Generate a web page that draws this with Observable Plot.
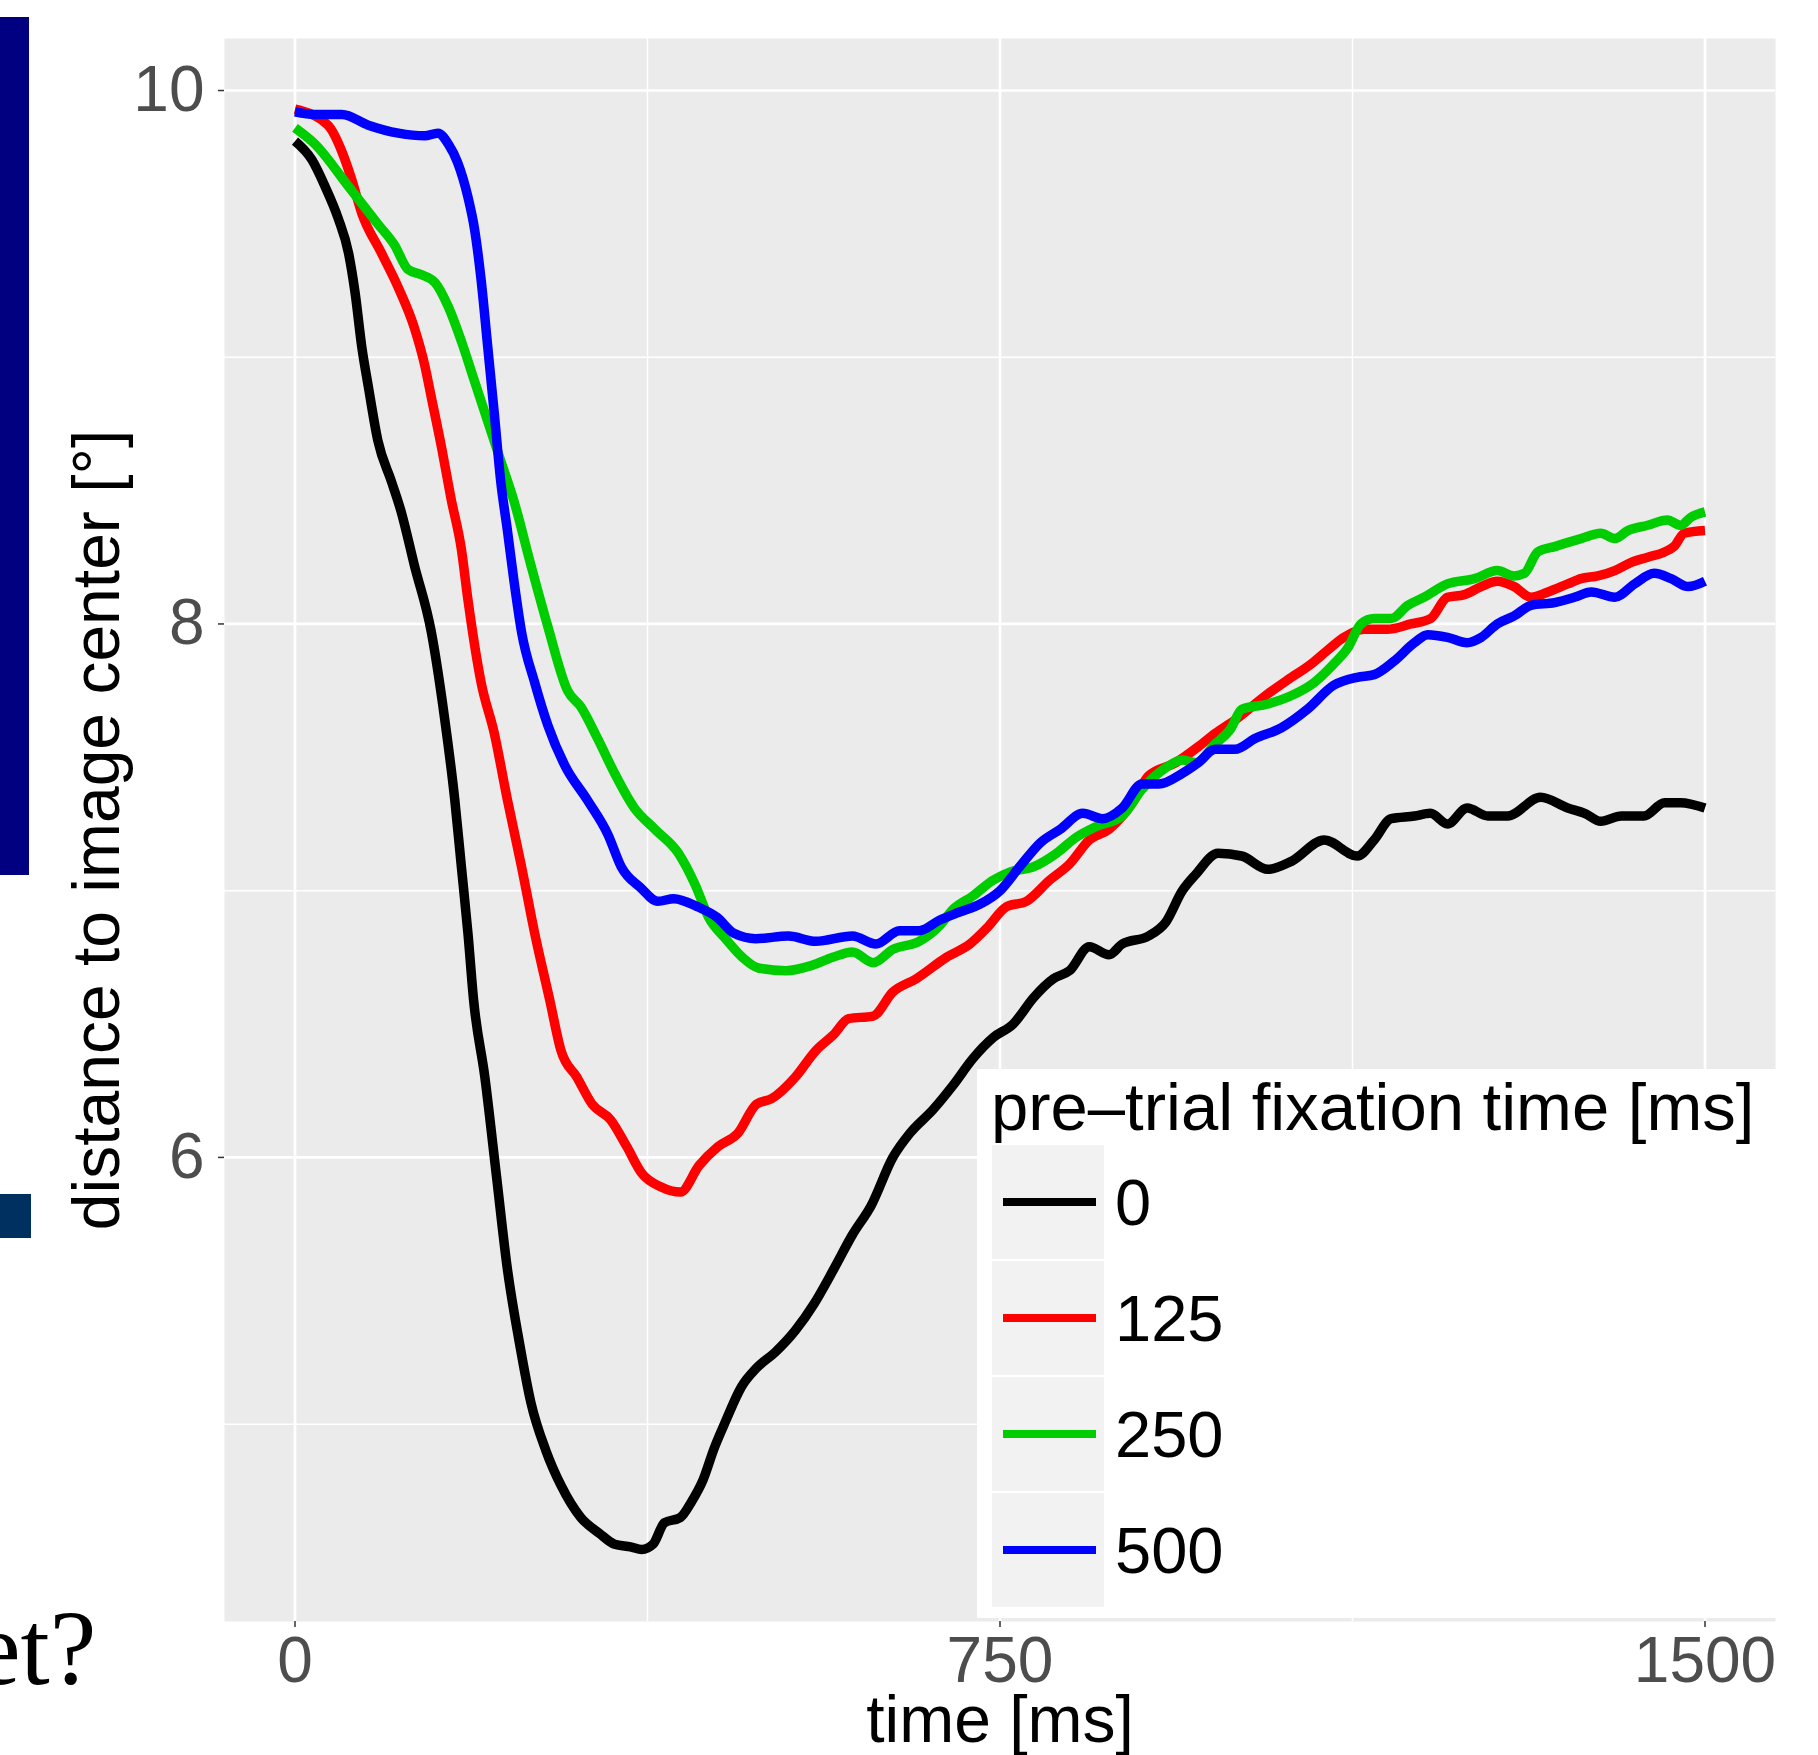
<!DOCTYPE html>
<html><head><meta charset="utf-8">
<script src="https://cdn.jsdelivr.net/npm/d3@7"></script>
<script src="https://cdn.jsdelivr.net/npm/@observablehq/plot@0.6"></script>
<style>
html,body{margin:0;padding:0;background:#fff;}
#wrap{position:relative;width:1818px;height:1755px;overflow:hidden;font-family:"Liberation Sans",Arial,sans-serif;}
#chart{position:absolute;left:0;top:0;}
#overlay{position:absolute;left:0;top:0;}
</style></head><body><div id="wrap"><div id="chart"></div><svg id="overlay" width="1818" height="1755"></svg></div>
<script>
// legend categories and colors
const seriesNames = ["0", "125", "250", "500"];
const seriesColors = ["#000000", "#FF0000", "#00CD00", "#0000FF"];
const legendTitle = "pre\u2013trial fixation time [ms]";
const xLabel = "time [ms]";
const yLabel = "distance to image center [\u00B0]";
const xTicks = [0, 750, 1500];
const xMinor = [375, 1125];
const yTicks = [6, 8, 10];
const yMinor = [5, 7, 9];

// series values: [time ms, distance deg]
const black0 = [[0,9.81],[18,9.74],[32,9.64],[46,9.52],[57,9.39],[64,9.24],[71,9.04],[78,8.89],[88,8.69],[103,8.53],[113,8.42],[127,8.22],[145,7.97],[159,7.65],[170,7.34],[177,7.09],[184,6.84],[190,6.59],[202,6.30],[214,5.94],[226,5.58],[239,5.30],[251,5.08],[267,4.90],[283,4.77],[304,4.65],[324,4.59],[340,4.55],[357,4.54],[369,4.53],[381,4.55],[393,4.63],[410,4.65],[422,4.71],[434,4.79],[446,4.91],[458,5.01],[475,5.14],[491,5.21],[511,5.27],[532,5.35],[552,5.45],[573,5.58],[593,5.71],[613,5.82],[636,6.00],[654,6.09],[679,6.18],[700,6.27],[721,6.37],[743,6.45],[764,6.50],[786,6.60],[807,6.67],[824,6.70],[845,6.79],[866,6.76],[880,6.80],[908,6.83],[926,6.88],[944,7.00],[958,7.06],[982,7.14],[1007,7.13],[1035,7.08],[1060,7.11],[1095,7.19],[1130,7.13],[1148,7.19],[1166,7.27],[1191,7.28],[1208,7.29],[1226,7.25],[1247,7.31],[1269,7.28],[1290,7.28],[1325,7.35],[1354,7.31],[1372,7.29],[1389,7.26],[1411,7.28],[1435,7.28],[1457,7.33],[1474,7.33],[1500,7.31]];
const red125 = [[0,9.93],[35,9.87],[50,9.77],[60,9.67],[71,9.54],[92,9.39],[110,9.26],[127,9.11],[138,8.97],[145,8.85],[156,8.66],[166,8.47],[177,8.28],[184,8.09],[198,7.78],[212,7.59],[226,7.34],[241,7.09],[255,6.84],[271,6.59],[283,6.40],[300,6.30],[316,6.20],[336,6.14],[353,6.04],[369,5.94],[389,5.89],[410,5.87],[430,5.97],[450,6.04],[471,6.09],[491,6.20],[507,6.22],[532,6.30],[554,6.40],[573,6.46],[589,6.52],[615,6.53],[636,6.62],[661,6.67],[693,6.75],[718,6.80],[736,6.86],[757,6.94],[778,6.96],[803,7.04],[824,7.10],[845,7.19],[866,7.23],[891,7.33],[908,7.43],[937,7.48],[961,7.54],[979,7.59],[1000,7.64],[1032,7.73],[1056,7.79],[1081,7.85],[1098,7.90],[1116,7.95],[1137,7.98],[1162,7.98],[1187,8.00],[1208,8.02],[1226,8.10],[1244,8.11],[1262,8.14],[1279,8.16],[1297,8.14],[1315,8.10],[1333,8.12],[1354,8.15],[1368,8.17],[1386,8.18],[1404,8.20],[1421,8.23],[1439,8.25],[1457,8.27],[1467,8.29],[1478,8.34],[1500,8.35]];
const green250 = [[0,9.86],[21,9.80],[57,9.64],[88,9.50],[106,9.42],[120,9.33],[134,9.31],[149,9.28],[163,9.19],[177,9.06],[191,8.91],[205,8.76],[219,8.61],[233,8.46],[251,8.22],[269,7.99],[290,7.75],[304,7.69],[322,7.57],[340,7.44],[361,7.31],[383,7.23],[408,7.14],[426,7.02],[440,6.90],[458,6.82],[476,6.75],[493,6.71],[522,6.70],[550,6.72],[572,6.75],[593,6.77],[615,6.73],[636,6.78],[664,6.81],[686,6.87],[700,6.93],[721,6.98],[743,7.04],[761,7.07],[786,7.09],[810,7.14],[831,7.20],[852,7.24],[880,7.28],[901,7.38],[926,7.46],[944,7.49],[958,7.48],[979,7.55],[996,7.61],[1007,7.68],[1035,7.70],[1059,7.73],[1084,7.78],[1105,7.85],[1120,7.91],[1134,8.00],[1148,8.02],[1166,8.02],[1184,8.07],[1201,8.10],[1226,8.15],[1255,8.17],[1279,8.20],[1297,8.18],[1308,8.19],[1322,8.27],[1340,8.29],[1368,8.32],[1389,8.34],[1404,8.32],[1418,8.35],[1439,8.37],[1460,8.39],[1474,8.37],[1485,8.40],[1500,8.42]];
const blue500 = [[0,9.92],[21,9.91],[50,9.91],[78,9.87],[110,9.84],[138,9.83],[152,9.84],[163,9.80],[173,9.73],[184,9.60],[191,9.48],[198,9.29],[205,9.04],[212,8.79],[219,8.53],[226,8.35],[233,8.16],[241,7.97],[255,7.78],[269,7.62],[287,7.47],[311,7.34],[333,7.21],[347,7.09],[368,7.01],[386,6.96],[403,6.97],[428,6.94],[449,6.90],[467,6.84],[490,6.82],[525,6.83],[554,6.81],[593,6.83],[618,6.80],[643,6.85],[664,6.85],[686,6.89],[707,6.92],[729,6.95],[750,7.00],[771,7.09],[793,7.18],[814,7.23],[838,7.29],[859,7.27],[880,7.31],[901,7.40],[919,7.40],[944,7.44],[961,7.48],[979,7.53],[1000,7.53],[1021,7.57],[1049,7.61],[1077,7.68],[1105,7.77],[1130,7.80],[1148,7.81],[1169,7.86],[1191,7.93],[1205,7.96],[1226,7.95],[1247,7.93],[1262,7.95],[1279,8.00],[1297,8.03],[1315,8.07],[1340,8.08],[1361,8.10],[1379,8.12],[1404,8.10],[1425,8.15],[1446,8.19],[1464,8.17],[1482,8.14],[1500,8.16]];

const allSeries = [black0, red125, green250, blue500];
const rows = [];
allSeries.forEach((arr, i) => arr.forEach(([t, v]) => rows.push({t, v, s: seriesNames[i]})));

const FONT = "'Liberation Sans', Arial, Helvetica, sans-serif";

const chart = Plot.plot({
  width: 1818, height: 1755,
  marginLeft: 224, marginRight: 43, marginTop: 38, marginBottom: 134,
  style: {fontFamily: FONT, background: "transparent", overflow: "visible"},
  x: {domain: [-75, 1575]},
  y: {domain: [4.26, 10.195]},
  color: {domain: seriesNames, range: seriesColors},
  marks: [
    Plot.frame({fill: "#EBEBEB", stroke: "none"}),
    Plot.gridX(xMinor, {stroke: "#FFFFFF", strokeOpacity: 1, strokeWidth: 1.5}),
    Plot.gridY(yMinor, {stroke: "#FFFFFF", strokeOpacity: 1, strokeWidth: 1.5}),
    Plot.gridX(xTicks, {stroke: "#FFFFFF", strokeOpacity: 1, strokeWidth: 2.7}),
    Plot.gridY(yTicks, {stroke: "#FFFFFF", strokeOpacity: 1, strokeWidth: 2.7}),
    Plot.line(rows, {x: "t", y: "v", z: "s", stroke: "s", strokeWidth: 9.5, curve: "monotone-x", strokeLinejoin: "round", strokeLinecap: "butt"}),
    Plot.axisX(xTicks, {tickSize: 6, tickPadding: 9, stroke: "#333333", strokeWidth: 1.5, fill: "#4D4D4D", fontSize: 64, tickFormat: d => String(d), label: null}),
    Plot.axisY(yTicks, {tickSize: 6, tickPadding: 14, stroke: "#333333", strokeWidth: 1.5, fill: "#4D4D4D", fontSize: 64, tickFormat: d => String(d), label: null}),
    Plot.text([xLabel], {text: d => d, frameAnchor: "bottom", lineAnchor: "bottom", dy: 120, fontSize: 66, fill: "#000000"}),
    Plot.text([yLabel], {text: d => d, frameAnchor: "left", textAnchor: "middle", lineAnchor: "bottom", rotate: -90, dx: -106, fontSize: 66, fill: "#000000"})
  ]
});
document.getElementById("chart").appendChild(chart);

// overlay: legend and slide fragments
const svg = d3.select("#overlay");
svg.append("rect").attr("x", 0).attr("y", 17).attr("width", 29).attr("height", 858).attr("fill", "#000080");
svg.append("rect").attr("x", 0).attr("y", 1194).attr("width", 31).attr("height", 44).attr("fill", "#00305F");
svg.append("text").attr("x", -26).attr("y", 1684).attr("font-family", "'Liberation Serif', 'Times New Roman', serif")
  .attr("font-size", 105).attr("fill", "#000").text("et?");

const lg = svg.append("g").attr("font-family", FONT);
lg.append("rect").attr("x", 977).attr("y", 1069).attr("width", 800).attr("height", 549).attr("fill", "#FFFFFF");
lg.append("text").attr("x", 991).attr("y", 1130).attr("font-size", 67).attr("fill", "#000").text(legendTitle);
seriesNames.forEach((name, i) => {
  const top = 1144 + i * 116;
  lg.append("rect").attr("x", 991).attr("y", top).attr("width", 114).attr("height", 116)
    .attr("fill", "#F2F2F2").attr("stroke", "#FFFFFF").attr("stroke-width", 2);
  lg.append("line").attr("x1", 1003).attr("x2", 1096).attr("y1", top + 58).attr("y2", top + 58)
    .attr("stroke", seriesColors[i]).attr("stroke-width", 8);
  lg.append("text").attr("x", 1115).attr("y", top + 58 + 23).attr("font-size", 65).attr("fill", "#000").text(name);
});
</script></body></html>
